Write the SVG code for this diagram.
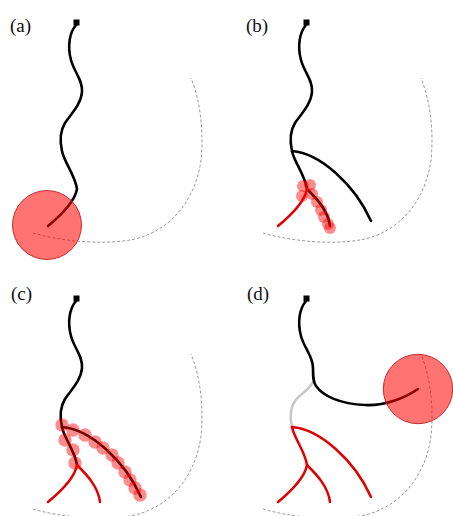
<svg xmlns="http://www.w3.org/2000/svg" xmlns:xlink="http://www.w3.org/1999/xlink" width="453" height="516" viewBox="0 0 453 516">
<style>
.lbl{font-family:"Liberation Serif","Times New Roman",serif;font-size:19px;fill:#111}
.arc{fill:none;stroke:#9a9a9a;stroke-width:1;stroke-dasharray:3 2}
.blk{fill:none;stroke:#000;stroke-width:2.6;stroke-linecap:round}
.red{fill:none;stroke:#e00000;stroke-width:2.5;stroke-linecap:round}
.gry{fill:none;stroke:#c8c8c8;stroke-width:2.5;stroke-linecap:round}
.big{fill:#ff0000;fill-opacity:0.55;stroke:#c42a2a;stroke-width:1}
.sm{fill:#ff0000;fill-opacity:0.45}
.sq{fill:#000}
</style>
<defs>
<path id="arcp" d="M33,233 C60,241 100,245 130,240 C165,234 195,205 201,160 C204,130 200,100 191,78"/>
<path id="sleft" d="M77,189 C75,200 65,212 48,226"/>
<path id="sright" d="M77,189 C86,198 98,210 100,226"/>
<path id="smid" d="M62,151 C64,162 75,175 77,189"/>
<path id="slong" d="M62,151 C90,153 125,185 141,221"/>
</defs>
<g id="labels">
<text class="lbl" x="10" y="32">(a)</text>
<text class="lbl" x="246" y="32">(b)</text>
<text class="lbl" x="11" y="300">(c)</text>
<text class="lbl" x="247" y="300">(d)</text>
</g>
<g id="panel-a">
<use xlink:href="#arcp" class="arc"/>
<path class="blk" d="M76,25 C70,32 67,45 71,60 C74,72 83,80 82,92 C81,105 70,115 65,123 C60,131 60,142 62,151 C64,162 75,175 77,189 C75,200 65,212 48,226"/>
<rect class="sq" x="73.5" y="19.5" width="6" height="6"/>
<circle class="big" cx="47" cy="225" r="34.5"/>
</g>
<g id="panel-b" transform="translate(230,0)">
<use xlink:href="#arcp" class="arc"/>
<path class="blk" d="M76,25 C70,32 67,45 71,60 C74,72 83,80 82,92 C81,105 70,115 65,123 C60,131 60,142 62,151 C64,162 75,175 77,189 C86,198 98,210 100,226"/>
<use xlink:href="#slong" class="blk"/>
<use xlink:href="#sleft" class="red"/>
<rect class="sq" x="73.5" y="19.5" width="6" height="6"/>
<g id="b-circles">
<circle class="sm" cx="73" cy="186" r="6"/>
<circle class="sm" cx="80" cy="185" r="6"/>
<circle class="sm" cx="72" cy="196" r="6"/>
<circle class="sm" cx="82" cy="194" r="6"/>
<circle class="sm" cx="87" cy="202" r="6"/>
<circle class="sm" cx="91" cy="210" r="6"/>
<circle class="sm" cx="94" cy="217" r="6"/>
<circle class="sm" cx="98" cy="224" r="6"/>
<circle class="sm" cx="100" cy="228" r="6"/>
</g>
</g>
<g id="panel-c" transform="translate(0,276)">
<use xlink:href="#arcp" class="arc"/>
<path class="blk" d="M76,25 C70,32 67,45 71,60 C74,72 83,80 82,92 C81,105 70,115 65,123 C60,131 60,142 62,151 C64,162 75,175 77,189"/>
<use xlink:href="#slong" class="blk"/>
<use xlink:href="#sleft" class="red"/>
<use xlink:href="#sright" class="red"/>
<rect class="sq" x="73.5" y="19.5" width="6" height="6"/>
<g id="c-circles">
<circle class="sm" cx="62" cy="149" r="6.7"/>
<circle class="sm" cx="73" cy="154" r="6.7"/>
<circle class="sm" cx="85" cy="159" r="6.7"/>
<circle class="sm" cx="95" cy="166" r="6.7"/>
<circle class="sm" cx="103" cy="172" r="6.7"/>
<circle class="sm" cx="112" cy="179" r="6.7"/>
<circle class="sm" cx="118" cy="187" r="6.7"/>
<circle class="sm" cx="125" cy="196" r="6.7"/>
<circle class="sm" cx="130" cy="204" r="6.7"/>
<circle class="sm" cx="135" cy="212" r="6.7"/>
<circle class="sm" cx="140" cy="219" r="6.7"/>
<circle class="sm" cx="65" cy="164" r="6.7"/>
<circle class="sm" cx="73" cy="174" r="6.7"/>
<circle class="sm" cx="75" cy="187" r="6.7"/>
</g>
</g>
<g id="panel-d" transform="translate(230,276)">
<use xlink:href="#arcp" class="arc"/>
<path class="gry" d="M84,104 C80,114 70,118 65,125 C60,132 60,142 62,151"/>
<use xlink:href="#smid" class="red"/>
<use xlink:href="#slong" class="red"/>
<use xlink:href="#sleft" class="red"/>
<use xlink:href="#sright" class="red"/>
<path class="blk" d="M76,25 C70,32 67,45 71,60 C74,72 83,80 83,92 C83,100 83,106 86,110 C93,120 110,128 135,129 C155,130 175,122 188,113"/>
<rect class="sq" x="73.5" y="19.5" width="6" height="6"/>
<circle class="big" cx="188" cy="113" r="34.7"/>
</g>
</svg>
